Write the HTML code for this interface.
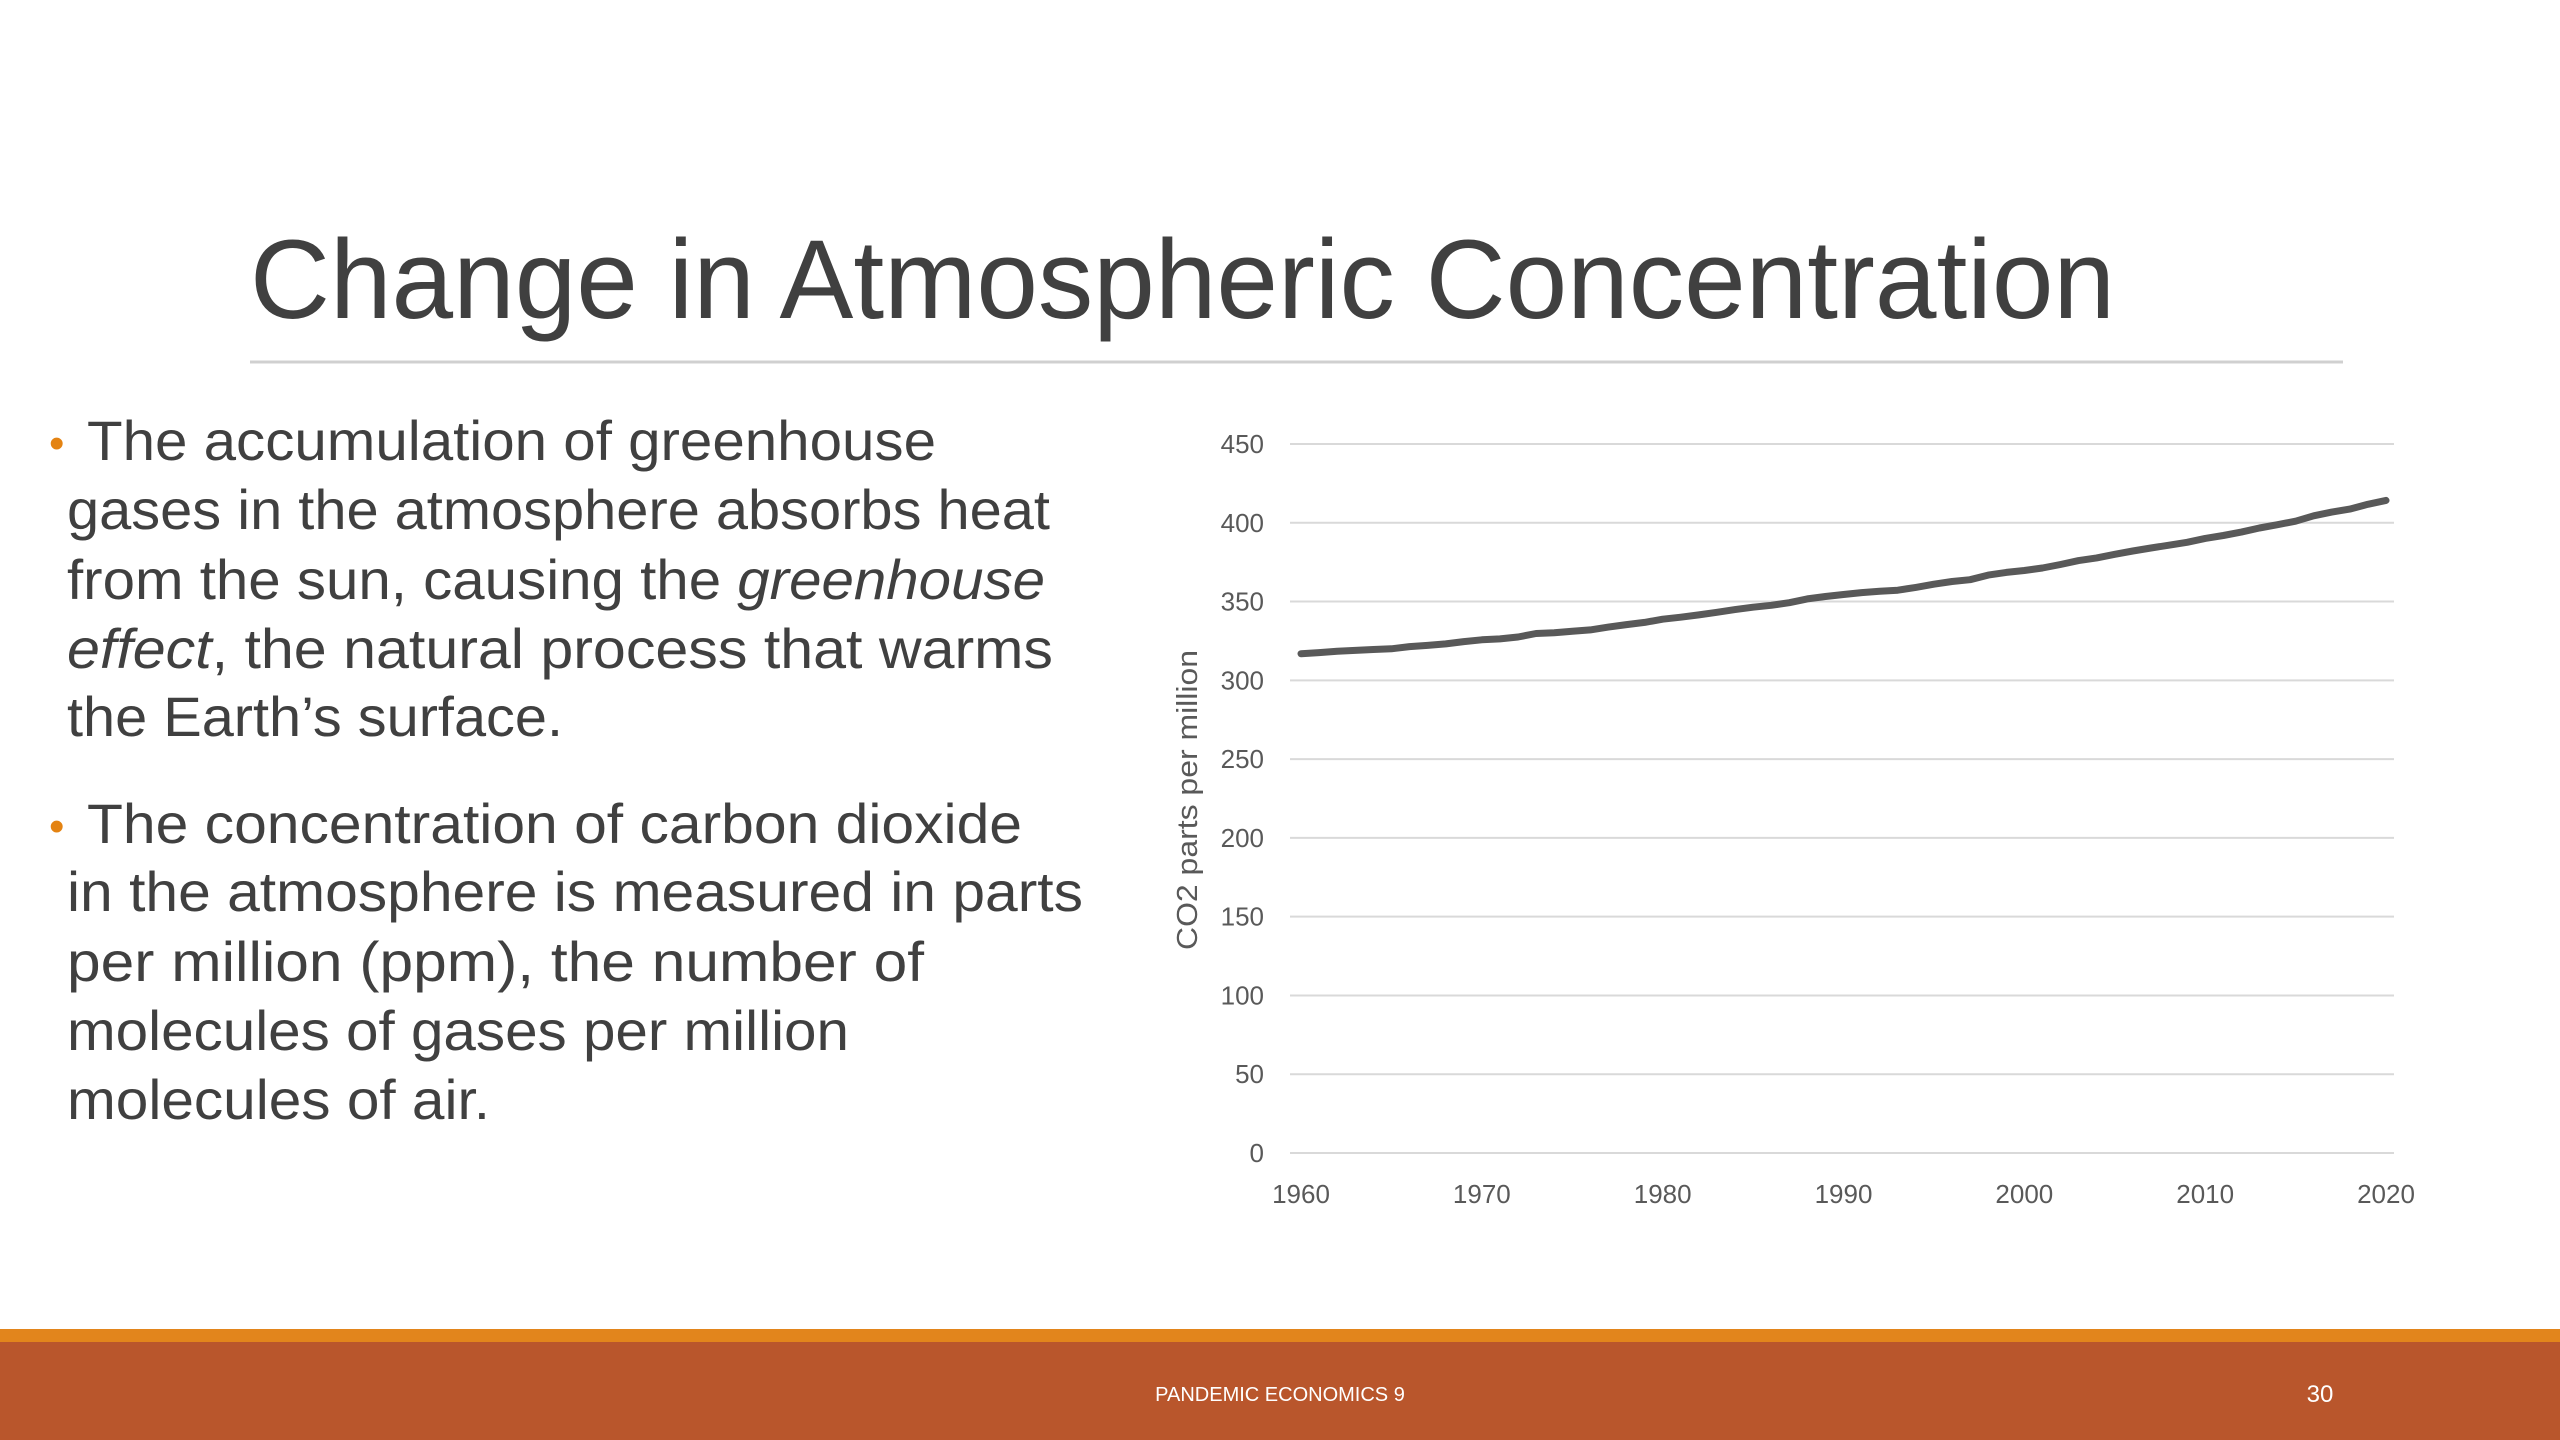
<!DOCTYPE html>
<html><head><meta charset="utf-8"><style>
html,body{margin:0;padding:0;background:#fff;}
svg{display:block;font-family:"Liberation Sans",sans-serif;}
</style></head><body>
<svg id="slide" width="2560" height="1440" viewBox="0 0 2560 1440">
  <text x="250" y="318" font-size="112" fill="#404040" textLength="1865" lengthAdjust="spacingAndGlyphs">Change in Atmospheric Concentration</text>
  <line x1="250" y1="362" x2="2343" y2="362" stroke="#d0d0d0" stroke-width="3"/>

  <g fill="#404040" font-size="56">
    <text x="49" y="458" fill="#e48312" font-size="44">•</text>
    <text x="87" y="460" textLength="849" lengthAdjust="spacingAndGlyphs">The accumulation of greenhouse</text>
    <text x="67" y="529" textLength="983" lengthAdjust="spacingAndGlyphs">gases in the atmosphere absorbs heat</text>
    <text x="67" y="599" textLength="978" lengthAdjust="spacingAndGlyphs">from the sun, causing the <tspan font-style="italic">greenhouse</tspan></text>
    <text x="67" y="668" textLength="986" lengthAdjust="spacingAndGlyphs"><tspan font-style="italic">effect</tspan>, the natural process that warms</text>
    <text x="67" y="736" textLength="496" lengthAdjust="spacingAndGlyphs">the Earth’s surface.</text>
    <text x="49" y="841" fill="#e48312" font-size="44">•</text>
    <text x="87" y="843" textLength="935" lengthAdjust="spacingAndGlyphs">The concentration of carbon dioxide</text>
    <text x="67" y="911" textLength="1016" lengthAdjust="spacingAndGlyphs">in the atmosphere is measured in parts</text>
    <text x="67" y="981" textLength="857" lengthAdjust="spacingAndGlyphs">per million (ppm), the number of</text>
    <text x="67" y="1050" textLength="782" lengthAdjust="spacingAndGlyphs">molecules of gases per million</text>
    <text x="67" y="1119" textLength="423" lengthAdjust="spacingAndGlyphs">molecules of air.</text>
  </g>

  <g id="chart"></g>

  <rect x="0" y="1329" width="2560" height="14" fill="#e2851c"/>
  <rect x="0" y="1342" width="2560" height="98" fill="#b9562c"/>
  <text x="1280" y="1401" font-size="20" fill="#fff" text-anchor="middle">PANDEMIC ECONOMICS 9</text>
  <text x="2320" y="1402" font-size="24" fill="#fff" text-anchor="middle">30</text>
</svg>
<script>
const years = [1960,1961,1962,1963,1964,1965,1966,1967,1968,1969,1970,1971,1972,1973,1974,1975,1976,1977,1978,1979,1980,1981,1982,1983,1984,1985,1986,1987,1988,1989,1990,1991,1992,1993,1994,1995,1996,1997,1998,1999,2000,2001,2002,2003,2004,2005,2006,2007,2008,2009,2010,2011,2012,2013,2014,2015,2016,2017,2018,2019,2020];
const co2ppm = [316.9,317.6,318.5,319.0,319.6,320.0,321.4,322.2,323.1,324.6,325.7,326.3,327.5,329.7,330.2,331.1,332.0,333.8,335.4,336.8,338.8,340.1,341.5,343.2,344.9,346.4,347.6,349.3,351.7,353.2,354.5,355.7,356.5,357.2,359.0,361.0,362.7,363.9,366.8,368.5,369.7,371.3,373.5,376.0,377.7,380.0,382.1,384.0,385.8,387.6,390.1,391.9,394.1,396.7,398.8,401.0,404.4,406.8,408.7,411.7,414.2];
const yTicks = [0,50,100,150,200,250,300,350,400,450];
const xTicks = [1960,1970,1980,1990,2000,2010,2020];

const NS = 'http://www.w3.org/2000/svg';
const g = document.getElementById('chart');
const X0=1301, X1=2386, Y0=1153, Y1=444;
const xs = v => X0 + (v-1960)/(2020-1960)*(X1-X0);
const ys = v => Y0 - v/450*(Y0-Y1);
function mk(tag, attrs){const e=document.createElementNS(NS,tag);for(const k in attrs)e.setAttribute(k,attrs[k]);g.appendChild(e);return e;}

yTicks.forEach(t=>{
  const l = mk('line',{x1:1290,x2:2394,y1:ys(t),y2:ys(t),stroke:'#d9d9d9','stroke-width':2});
  
  
  const tx = mk('text',{x:1264,y:ys(t)+9,'font-size':26,fill:'#595959','text-anchor':'end'});
  tx.textContent = t;
  
  
});
xTicks.forEach(t=>{
  const tx = mk('text',{x:xs(t),y:1203,'font-size':26,fill:'#595959','text-anchor':'middle'});
  tx.textContent = t;
  
  
});
const yt = mk('text',{x:0,y:0,'font-size':29,fill:'#595959','text-anchor':'middle',textLength:300,lengthAdjust:'spacingAndGlyphs',transform:'translate(1197,800) rotate(-90)'});
yt.textContent = 'CO2 parts per million';



const d = years.map((y,i)=>(i?'L':'M')+xs(y).toFixed(1)+','+ys(co2ppm[i]).toFixed(1)).join(' ');
const p = mk('path',{d:d,fill:'none',stroke:'#595959','stroke-width':7,'stroke-linejoin':'round','stroke-linecap':'round'});


</script>
</body></html>
